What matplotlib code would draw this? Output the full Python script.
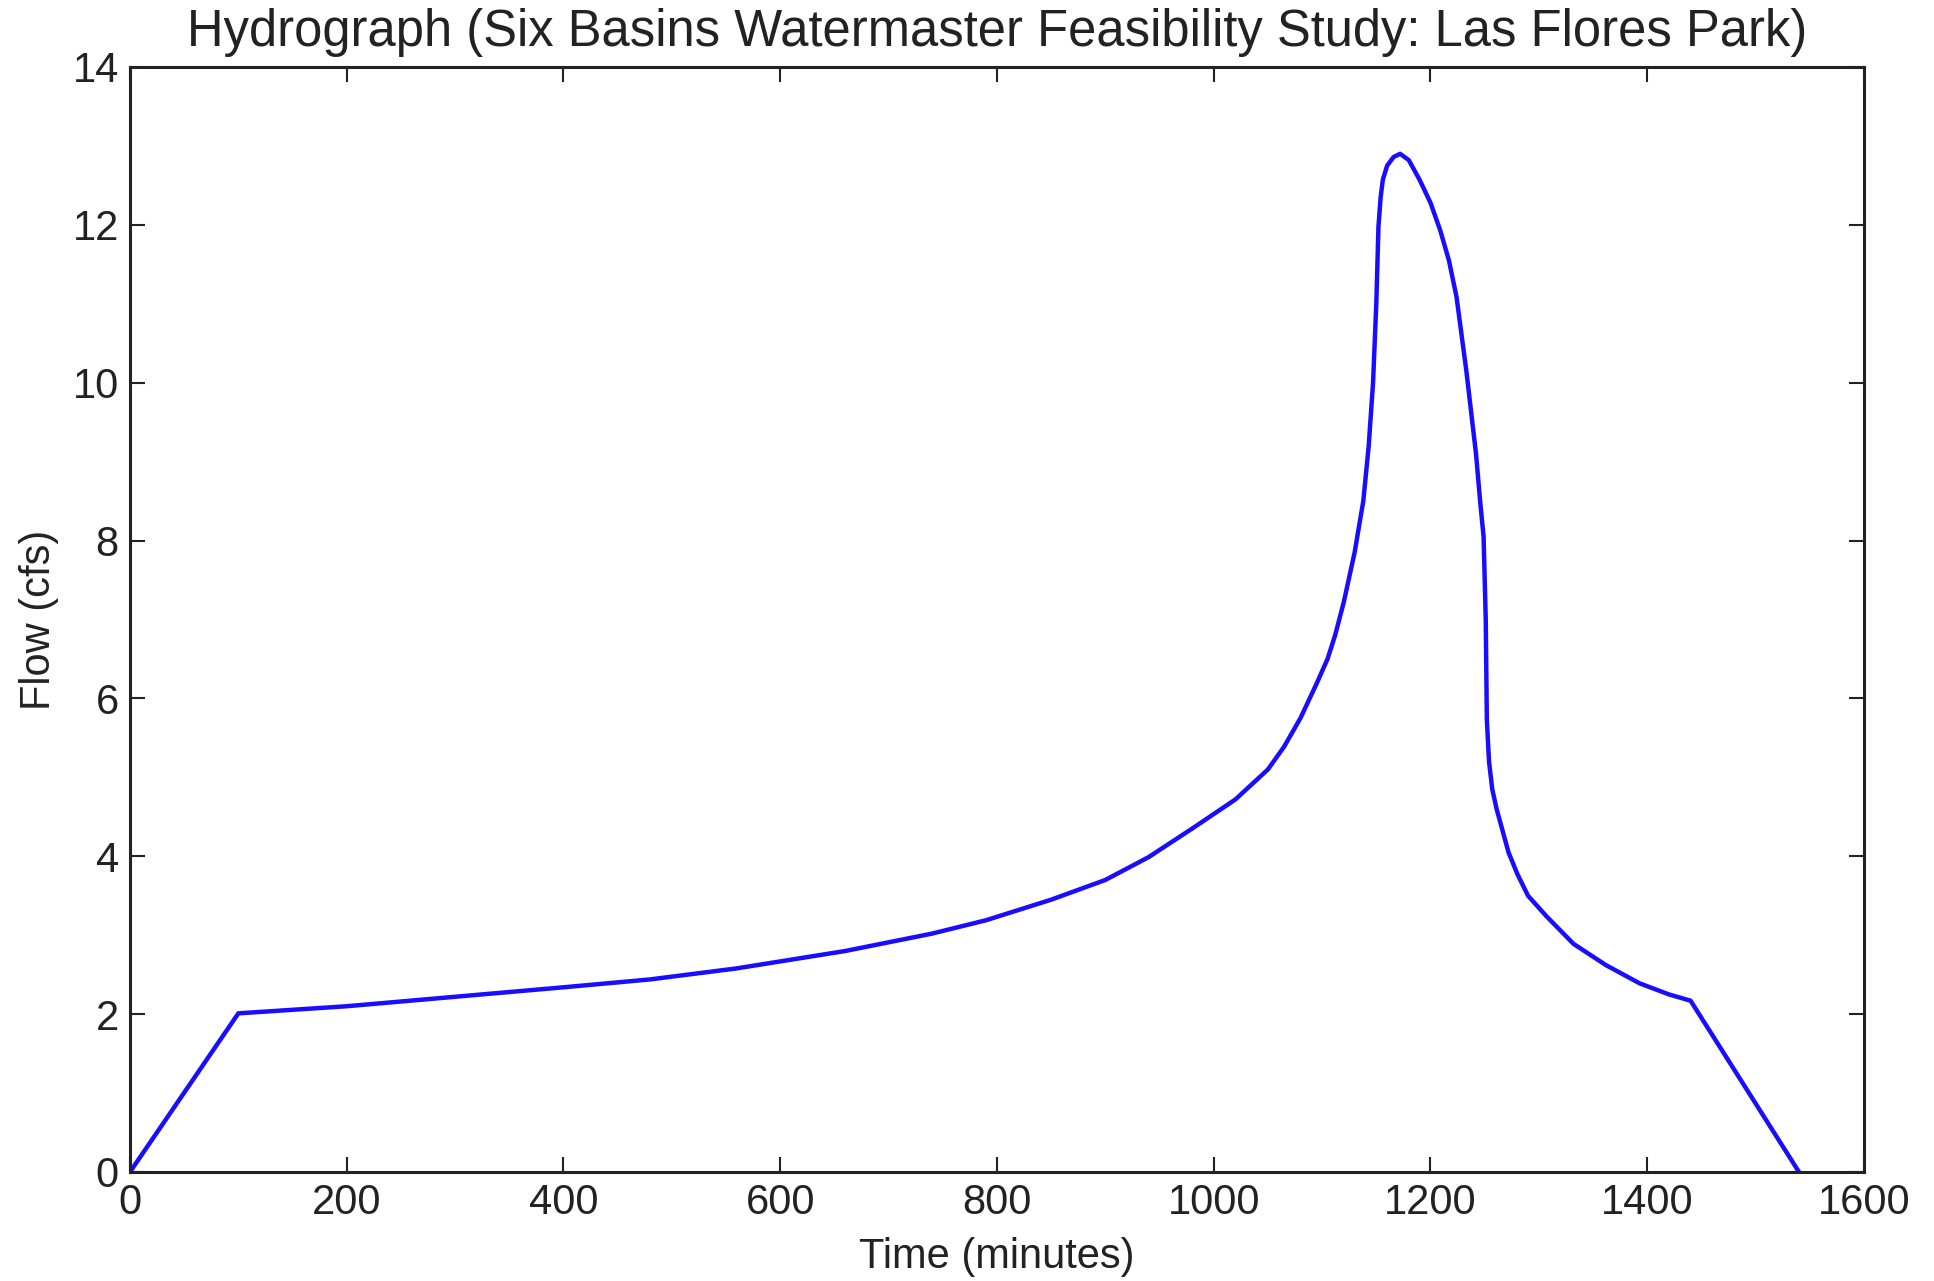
import matplotlib
matplotlib.use('Agg')
import matplotlib.pyplot as plt

# hydrograph: time (minutes) and flow (cfs)
time_min = [0, 100, 200, 300, 400, 480, 560, 660, 740, 790, 850, 900, 940,
            980, 1020, 1050, 1065, 1080, 1095, 1105, 1112, 1120, 1130, 1138,
            1143, 1147, 1150, 1152, 1154, 1156, 1160, 1166, 1172, 1180, 1190,
            1200, 1209, 1217, 1224, 1233, 1242, 1246, 1249, 1251, 1252, 1254,
            1257, 1261, 1265, 1272, 1280, 1290, 1307, 1332, 1362, 1393, 1420,
            1440, 1540]
flow_cfs = [0, 2.01, 2.10, 2.22, 2.34, 2.44, 2.58, 2.80, 3.02, 3.19, 3.45, 3.70,
            3.99, 4.35, 4.72, 5.10, 5.39, 5.75, 6.19, 6.50, 6.80, 7.22, 7.85,
            8.50, 9.20, 10.00, 11.00, 11.98, 12.35, 12.57, 12.75, 12.86, 12.90,
            12.82, 12.57, 12.28, 11.93, 11.55, 11.09, 10.16, 9.10, 8.47, 8.05,
            6.99, 5.73, 5.20, 4.85, 4.60, 4.40, 4.05, 3.78, 3.50, 3.24, 2.89,
            2.62, 2.39, 2.25, 2.17, 0]

xticks = [0, 200, 400, 600, 800, 1000, 1200, 1400, 1600]
yticks = [0, 2, 4, 6, 8, 10, 12, 14]

plt.rcParams['font.family'] = ['Liberation Sans', 'DejaVu Sans']

fig = plt.figure(figsize=(19.34, 12.81), dpi=100)
ax = fig.add_axes([0.0672, 0.0851, 0.8966, 0.8626])

ax.plot(time_min, flow_cfs, color='#1a0dff', linewidth=3.2)

ax.set_xlim(0, 1600)
ax.set_ylim(0, 14)
ax.set_xticks(xticks)
ax.set_yticks(yticks)
ax.tick_params(direction='in', length=11, width=1.5, labelsize=30,
               top=True, right=True, pad=8, colors='#222222')
for s in ax.spines.values():
    s.set_linewidth(2.2)
    s.set_color('#222222')

ax.set_title('Hydrograph (Six Basins Watermaster Feasibility Study: Las Flores Park)',
             fontsize=36.5, pad=15, color='#222222')
ax.set_xlabel('Time (minutes)', fontsize=30, labelpad=10, color='#222222')
ax.set_ylabel('Flow (cfs)', fontsize=30, labelpad=10, color='#222222')

fig.savefig('out.png', dpi=100)
